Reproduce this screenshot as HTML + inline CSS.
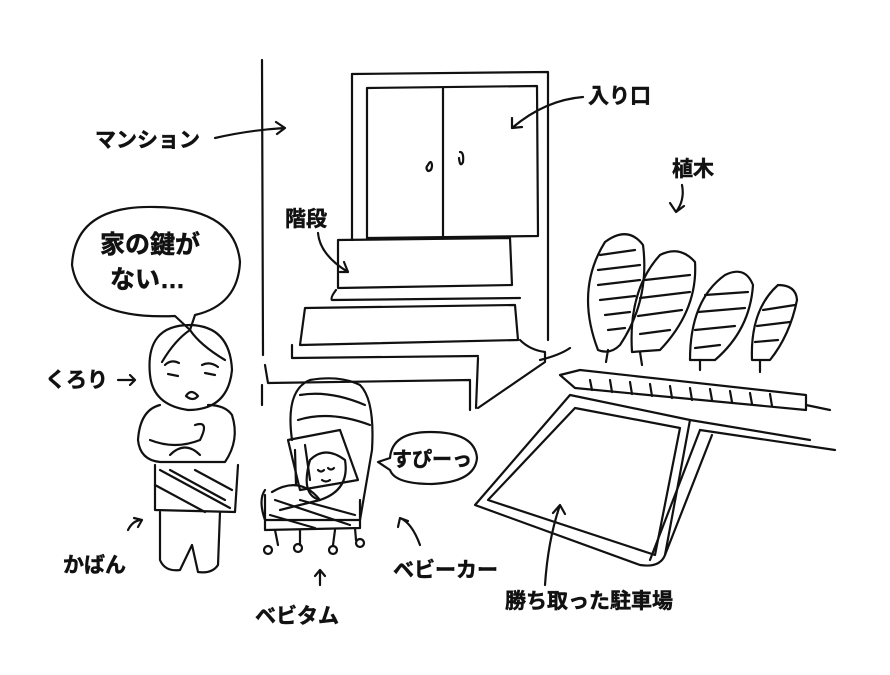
<!DOCTYPE html>
<html><head><meta charset="utf-8"><style>
html,body{margin:0;padding:0;background:#fff;}
svg{display:block}
text{font-family:"Liberation Sans","Noto Sans CJK JP",sans-serif;font-weight:bold;fill:#111;stroke:#111;stroke-width:0.5;}
</style></head><body>
<svg width="890" height="675" viewBox="0 0 890 675" xmlns="http://www.w3.org/2000/svg">
<g fill="none" stroke="#111" stroke-width="2.2" stroke-linecap="round" stroke-linejoin="round">
<path d="M262 60 L263 355"/>
<path d="M352 74 L548 72 L548 340"/>
<path d="M352 74 L352 240"/>
<path d="M367 88 L537 86 L538 236 L367 238 Z"/>
<path d="M443 88 L443 236"/>
<path d="M428 165 q3 -6 4 0 q0 6 -4 6 q-3 -3 0 -6"/>
<path d="M460 152 q4 0 3 10 q-3 6 -4 -4"/>
<path d="M338 240 L510 238 L512 285 L338 288 Z"/>
<path d="M336 290 Q330 298 332 300 L520 298"/>
<path d="M305 308 L515 305 L518 340 L300 345 Z"/>
<path d="M292 345 L292 358 L478 356"/>
<path d="M265 365 L268 383 L470 380 L470 410"/>
<path d="M262 385 L262 405"/>
<path d="M478 358 L476 408"/>
<path d="M520 340 Q530 350 545 352 L545 362 L478 408"/>
<path d="M215 138 Q250 130 285 128 M276 122 L285 128 L277 134"/>
<path d="M583 97 Q545 100 512 128 M512 118 L512 128 L522 127"/>
<path d="M682 185 Q685 200 676 212 M670 203 L676 212 L684 206"/>
<path d="M318 233 Q320 255 348 272 M340 272 L348 272 L344 262"/>
<path d="M118 380 L135 380 M130 375 L135 380 L130 385"/>
<path d="M128 530 Q133 520 142 520 M134 518 L142 520 L138 527"/>
<path d="M320 585 L320 570 M315 576 L320 570 L325 576"/>
<path d="M420 545 Q412 523 400 518 M398 527 L400 518 L408 521"/>
<path d="M545 585 Q548 540 560 505 M553 513 L560 505 L565 514"/>
<path d="M175 316 Q80 320 72 265 Q75 205 155 207 Q235 208 240 262 Q238 305 195 315 L190 330 Z"/>
<path d="M190 325 Q145 325 150 375 Q153 405 188 410 Q228 410 232 370 Q230 326 190 325 Z"/>
<path d="M162 362 Q175 340 190 330 Q200 345 225 360"/>
<path d="M165 365 q6 -6 14 -2 M202 365 q8 -4 16 2"/>
<path d="M168 374 L178 376 M205 373 L215 375"/>
<path d="M186 396 q5 -8 12 0 q-5 6 -12 0"/>
<path d="M160 405 Q140 410 138 440 Q140 460 160 462 L225 462 Q240 440 232 415 Q225 405 208 405"/>
<path d="M150 440 Q175 450 200 440 Q210 420 195 425"/>
<path d="M155 465 L155 510 L235 512 L238 465"/>
<path d="M160 470 L230 508 M170 470 L225 500 M155 485 L205 512 M195 470 L232 490"/>
<path d="M170 455 Q185 440 200 455"/>
<path d="M160 512 L160 560 Q165 572 180 570 L192 545 L198 572 Q212 574 218 565 L220 512"/>
<path d="M292 440 Q285 390 310 380 Q340 375 360 385 Q375 400 372 450 L360 520 L265 520 Q258 500 265 490"/>
<path d="M300 395 Q330 390 365 405 M298 420 Q330 410 370 425"/>
<path d="M288 440 L340 430 L358 480 L300 490 Z"/>
<path d="M295 450 L296 485 M305 445 L310 480"/>
<path d="M310 460 Q325 445 345 460 Q350 490 320 500 Q300 495 310 460 Z"/>
<path d="M318 470 q3 3 6 0 M328 468 q3 3 6 0 M322 480 q4 3 8 0"/>
<path d="M272 492 Q300 475 320 500 L280 510"/>
<path d="M265 495 L265 530 L360 528 L360 500"/>
<path d="M275 500 L350 525 M270 515 L315 528 M300 500 L355 515"/>
<path d="M275 530 L278 545 M300 530 L300 545 M335 530 L333 545 M355 528 L356 540"/>
<circle cx="268" cy="550" r="4"/><circle cx="298" cy="548" r="4"/><circle cx="333" cy="550" r="4"/><circle cx="360" cy="543" r="4"/>
<path d="M378 462 L390 458 Q392 432 430 432 Q475 432 477 458 Q475 482 432 484 Q395 484 390 470 Z"/>
<path d="M598 350 Q575 290 605 242 Q628 225 643 245 Q650 300 620 345 Q610 355 598 350 Z"/>
<path d="M600 255 L635 250 M598 270 L640 265 M598 285 L640 280 M600 300 L635 296 M605 315 L630 312 M608 330 L625 328"/>
<path d="M632 352 Q628 290 660 255 Q680 245 695 262 Q698 310 660 350 Z"/>
<path d="M645 280 L690 275 M640 298 L690 292 M638 316 L682 310 M640 334 L670 330"/>
<path d="M690 360 Q690 300 725 275 Q745 265 753 285 Q750 330 715 360 Z"/>
<path d="M705 295 L748 292 M698 312 L745 308 M695 330 L735 326 M695 348 L720 345"/>
<path d="M752 360 Q750 310 778 285 Q796 285 797 300 Q790 335 770 360 Z"/>
<path d="M763 310 L795 305 M757 326 L790 322 M755 342 L778 340"/>
<path d="M608 350 L606 362 M640 352 L642 365 M700 360 L700 370 M760 360 L760 372"/>
<path d="M540 360 Q560 355 570 348 M560 375 L580 370 L806 395 L806 410 L575 388 Z"/>
<path d="M590 380 L592 390 M610 380 L612 392 M630 382 L632 394 M650 384 L652 396 M670 386 L672 398 M690 388 L692 400 M710 389 L712 400 M730 391 L732 402 M750 393 L752 404 M770 394 L772 406"/>
<path d="M806 405 L830 410"/>
<path d="M475 505 L570 395 L690 420 L665 555 Q660 568 640 565 Z"/>
<path d="M488 500 L575 408 L680 428 L655 555 Z"/>
<path d="M690 420 L810 440"/>
<path d="M700 430 L650 560 M712 435 L665 555"/>
<path d="M700 430 L835 450"/>
</g>
<text x="95" y="147" font-size="21">マンション</text>
<text x="588" y="103" font-size="21">入り口</text>
<text x="672" y="176" font-size="21">植木</text>
<text x="285" y="226" font-size="21">階段</text>
<text x="100" y="253" font-size="25">家の鍵が</text>
<text x="110" y="288" font-size="25">ない…</text>
<text x="45" y="387" font-size="21">くろり</text>
<text x="392" y="466" font-size="20">すぴーっ</text>
<text x="63" y="572" font-size="21">かばん</text>
<text x="393" y="577" font-size="21">ベビーカー</text>
<text x="255" y="623" font-size="21">ベビタム</text>
<text x="505" y="608" font-size="21">勝ち取った駐車場</text>
</svg>
</body></html>
